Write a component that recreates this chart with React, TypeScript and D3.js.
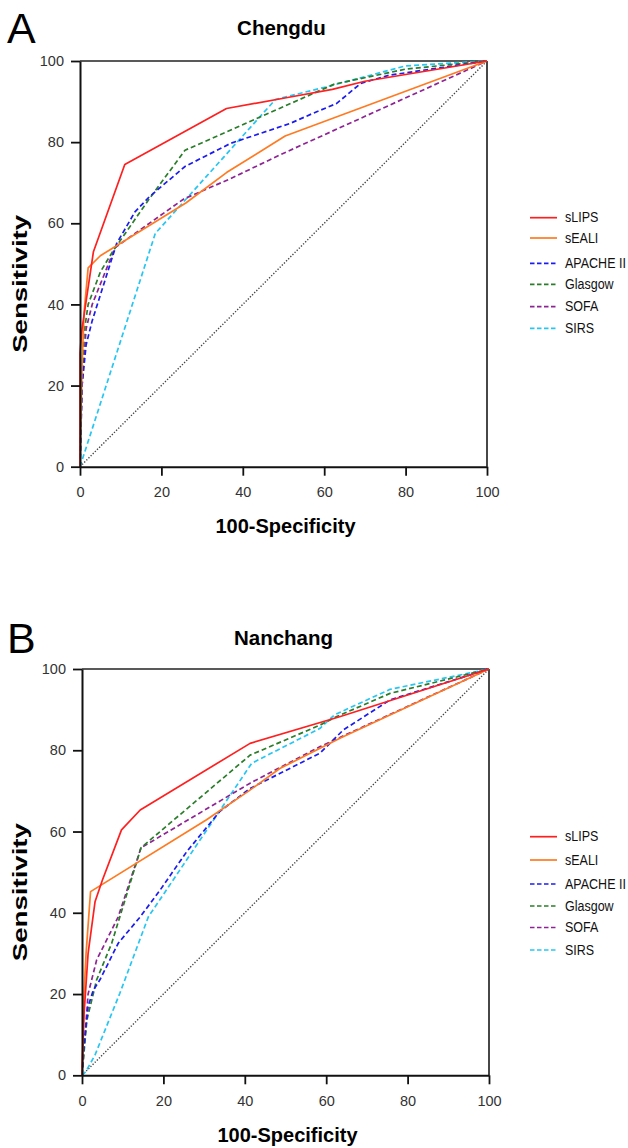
import React, { useEffect, useRef } from 'react';
import * as d3 from 'd3';

// ROC curves, two cohorts. Points are [100-Specificity, Sensitivity]
const seriesNames = ['sLIPS', 'sEALI', 'APACHE II', 'Glasgow', 'SOFA', 'SIRS'];
const seriesColors = ['#ff1f1f', '#ff7a21', '#1c1cf0', '#2a7d2a', '#8e2494', '#27c6f2'];
const seriesDashed = [false, false, true, true, true, true];
const axisTicks = [0, 20, 40, 60, 80, 100];

const chengduSLIPS = [[0, 0], [0, 28], [0.5, 34], [3.3, 53], [11, 74.5], [36, 88.3], [51, 91], [62, 93], [70, 95], [100, 100]];
const chengduSEALI = [[0, 0], [0.5, 25], [1, 38], [2, 49], [5, 52], [26, 65], [36, 72.5], [50.4, 81.5], [100, 100]];
const chengduAPACHE = [[0, 0], [0.5, 20], [1.5, 30], [3, 36], [9, 55], [13.5, 62.8], [17, 66.5], [25.8, 74], [37, 79.7], [51.6, 84.6], [57, 87], [63, 89.5], [69, 94.5], [76, 96.5], [100, 100]];
const chengduGlasgow = [[0, 0], [0.3, 15], [1, 33], [2, 40], [5, 48], [8, 53], [17, 66], [25.8, 78], [49, 88.3], [62.5, 94.3], [80, 98], [100, 100]];
const chengduSOFA = [[0, 0], [0.5, 20], [1.5, 34], [3, 40], [8.6, 54], [25.5, 66], [37, 71], [49, 76.8], [100, 100]];
const chengduSIRS = [[0, 0], [18.5, 57.5], [48, 90.5], [62, 94], [80, 98.8], [100, 100]];

const nanchangSLIPS = [[0, 0], [0.5, 15], [1.5, 30], [3.2, 42.7], [5, 48], [9.7, 60.4], [14.3, 65.3], [41.3, 81.7], [63.5, 88.3], [100, 100]];
const nanchangSEALI = [[0, 0], [0.5, 20], [1, 30], [2.1, 45.2], [30.6, 62.9], [41, 70], [48.6, 75.5], [63.5, 83], [100, 100]];
const nanchangAPACHE = [[0, 0], [0.3, 5.5], [1.5, 17], [2.8, 21], [4.4, 23.5], [8.9, 32.5], [14.3, 39], [19.2, 45.6], [25.7, 55], [33.9, 65], [41.3, 70.6], [58.5, 79.3], [64.2, 85], [75.7, 92.4], [100, 100]];
const nanchangGlasgow = [[0, 0], [1.2, 13.6], [3.6, 23.5], [7.3, 32.5], [14.5, 56], [41.3, 78.8], [58.5, 86.2], [62.6, 88.3], [75.7, 94], [100, 100]];
const nanchangSOFA = [[0, 0], [1.5, 20], [3.6, 28.4], [8.9, 39], [14.5, 56], [41.3, 71.9], [58.5, 80.9], [100, 100]];
const nanchangSIRS = [[0, 0], [1, 1], [3.2, 5], [9.3, 20.2], [16.3, 39], [25.7, 53], [41.7, 76.8], [58.5, 85.4], [62, 88.7], [75.7, 95], [100, 100]];

const panels = [
  {letter: 'A', title: 'Chengdu', series: [chengduSLIPS, chengduSEALI, chengduAPACHE, chengduGlasgow, chengduSOFA, chengduSIRS],
    x0: 80, x1: 487, y0: 466.7, y1: 61, titleY: 35.3, letterY: 43, legendY: [217.7, 238, 263.3, 284.3, 306.7, 328.3]},
  {letter: 'B', title: 'Nanchang', series: [nanchangSLIPS, nanchangSEALI, nanchangAPACHE, nanchangGlasgow, nanchangSOFA, nanchangSIRS],
    x0: 82, x1: 489, y0: 1075.3, y1: 669, titleY: 645, letterY: 653, legendY: [836.7, 860, 884, 906, 927.5, 950]}
];

const FONT = '"Liberation Sans", Arial, Helvetica, sans-serif';

export default function App() {
  const ref = useRef<SVGSVGElement>(null);

  useEffect(() => {
    const svg = d3.select(ref.current);
    svg.selectAll('*').remove();

    panels.forEach(p => {
      const x = d3.scaleLinear().domain([0, 100]).range([p.x0, p.x1]);
      const y = d3.scaleLinear().domain([0, 100]).range([p.y0, p.y1]);
      const g = svg.append('g');

      // panel letter + title
      g.append('text').attr('x', 7).attr('y', p.letterY).attr('font-size', 43).attr('fill', '#000').text(p.letter);
      g.append('text').attr('x', (p.x0 + p.x1) / 2 - 2).attr('y', p.titleY).attr('text-anchor', 'middle')
        .attr('font-size', 20.5).attr('font-weight', 700).text(p.title);

      // frame (top/right)
      g.append('line').attr('x1', p.x0).attr('x2', p.x1).attr('y1', p.y1).attr('y2', p.y1).attr('stroke', '#222').attr('stroke-width', 1.6);
      g.append('line').attr('x1', p.x1).attr('x2', p.x1).attr('y1', p.y1).attr('y2', p.y0).attr('stroke', '#333').attr('stroke-width', 1.8);

      // chance diagonal
      g.append('line').attr('x1', x(0)).attr('y1', y(0)).attr('x2', x(100)).attr('y2', y(100))
        .attr('stroke', '#444').attr('stroke-width', 1.4).attr('stroke-dasharray', '1.3,1.7');

      // curves
      const line = d3.line<number[]>().x(d => x(d[0])).y(d => y(d[1]));
      const order = [5, 4, 3, 2, 1, 0];
      order.forEach(i => {
        g.append('path').datum(p.series[i]).attr('d', line).attr('fill', 'none')
          .attr('stroke', seriesColors[i]).attr('stroke-width', 1.7)
          .attr('stroke-linejoin', 'round')
          .attr('stroke-dasharray', seriesDashed[i] ? '5,3' : null);
      });

      // axes
      const xAxis = g.append('g').attr('transform', `translate(0,${p.y0})`)
        .call(d3.axisBottom(x).tickValues(axisTicks).tickSize(9).tickPadding(11).tickSizeOuter(0));
      const yAxis = g.append('g').attr('transform', `translate(${p.x0},0)`)
        .call(d3.axisLeft(y).tickValues(axisTicks).tickSize(9).tickPadding(7).tickSizeOuter(0));
      [xAxis, yAxis].forEach(a => {
        a.select('.domain').attr('stroke', '#111').attr('stroke-width', 2);
        a.selectAll('.tick line').attr('stroke', '#111').attr('stroke-width', 1.8);
        a.selectAll('.tick text').attr('font-size', 14.5).attr('fill', '#333').attr('font-family', FONT);
      });

      // axis titles
      g.append('text').attr('x', (p.x0 + p.x1) / 2 + 2).attr('y', p.y0 + 66.5).attr('text-anchor', 'middle')
        .attr('font-size', 20).attr('font-weight', 700).text('100-Specificity');
      g.append('text').attr('transform', `translate(27,${(p.y0 + p.y1) / 2 + 20}) rotate(-90) scale(1.38,1)`)
        .attr('text-anchor', 'middle').attr('font-size', 20).attr('font-weight', 700).text('Sensitivity');

      // legend
      seriesNames.forEach((name, i) => {
        const ly = p.legendY[i];
        g.append('line').attr('x1', 530).attr('x2', 557).attr('y1', ly).attr('y2', ly)
          .attr('stroke', seriesColors[i]).attr('stroke-width', 1.7)
          .attr('stroke-dasharray', seriesDashed[i] ? '4.5,2.5' : null);
        g.append('text').attr('transform', `translate(565,${ly + 4.5}) scale(1,1.15)`)
          .attr('font-size', 12.5).attr('fill', '#111').text(name);
      });
    });
  }, []);

  return (
    <svg ref={ref} width={628} height={1148} fontFamily={FONT}
      style={{position: 'absolute', left: 0, top: 0, background: '#fff'}} />
  );
}
